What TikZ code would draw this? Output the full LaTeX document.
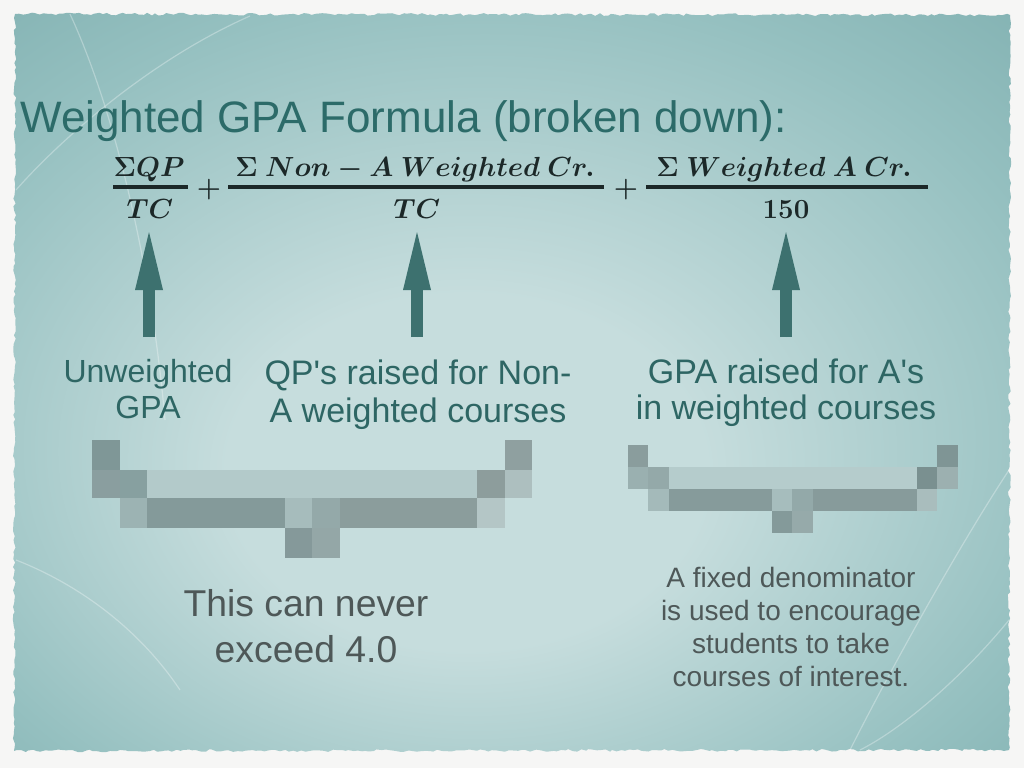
\documentclass[tikz,border=0pt]{standalone}
\usepackage[no-math]{fontspec}
\setmainfont{Liberation Sans}
\newfontfamily\aposfont{Liberation Sans}
\usetikzlibrary{arrows.meta,decorations.pathmorphing}
\definecolor{paper}{HTML}{F6F6F5}
\definecolor{cardedge}{HTML}{6A9FA0}
\definecolor{cardmid}{HTML}{95C0C0}
\definecolor{cardlight}{HTML}{C6DDDD}
\definecolor{titlecol}{HTML}{2C6B69}
\definecolor{labelcol}{HTML}{2E6664}
\definecolor{notecol}{HTML}{4E5858}
\definecolor{arrowcol}{HTML}{3D716F}
\definecolor{mathcol}{HTML}{1C2828}
\definecolor{blkc}{HTML}{888888}
\pgfdeclareradialshading{cardshade}{\pgfpoint{-3bp}{-8bp}}{%
  color(0bp)=(cardlight); color(12bp)=(cardlight); color(30bp)=(cardmid); color(50bp)=(cardedge)}
\tikzset{
  title/.style={text=titlecol, font=\fontsize{33}{40}\selectfont, inner sep=0pt, anchor=base west},
  frm/.style={text=mathcol, font=\fontsize{20}{24}\selectfont\boldmath, inner sep=0pt, anchor=base},
  fbar/.style={draw=mathcol, line width=2.4pt},
  label/.style={text=labelcol, align=center, inner sep=0pt, anchor=base},
  note/.style={text=notecol, align=center, inner sep=0pt, anchor=base},
  bigarrow/.style={draw=arrowcol, line width=9pt, -{Triangle[length=43.5pt,width=21pt,line width=0pt]}, fill=arrowcol},
  arcline/.style={draw=white, opacity=0.3, line width=0.9pt}
}
\newcommand{\blk}[5]{\definecolor{blkc}{HTML}{#5}\fill[blkc] (#1,#2) rectangle (#3,#4);}
\newcommand{\apos}{{\aposfont '}}
\begin{document}
\begin{tikzpicture}[x=0.75pt,y=-0.75pt]
\useasboundingbox (0,0) rectangle (1024,768);
\fill[paper] (0,0) rectangle (1024,768);
\pgfmathsetseed{7}
\shade[shading=cardshade, decorate, decoration={random steps, segment length=3pt, amplitude=1pt}]
  (15,14) -- (1010,15) -- (1009,750) -- (14,751) -- cycle;
% faint decorative arcs
\draw[arcline] (70,14) .. controls (110,100) and (150,250) .. (165,420);
\draw[arcline] (250,16) .. controls (150,60) and (60,140) .. (16,190);
\draw[arcline] (1009,470) .. controls (950,560) and (880,690) .. (850,750);
\draw[arcline] (1009,620) .. controls (960,680) and (900,730) .. (860,750);
\draw[arcline] (16,560) .. controls (80,585) and (140,630) .. (180,690);

% title
\node[title] (title) at (20,132) {Weighted GPA Formula (broken down):};

% formula
\node[frm] (n1) at (149,176) {$\Sigma QP$};
\node[frm] (d1) at (150,218) {$TC$};
\draw[fbar] (113,187) -- (188,187);
\node[frm, anchor=center] (p1) at (209,190) {$\mathbf{+}$};
\node[frm] (n2) at (415,176) {$\Sigma\ Non-A\ Weighted\ Cr.$};
\node[frm] (d2) at (417,218) {$TC$};
\draw[fbar] (228,187) -- (604,187);
\node[frm, anchor=center] (p2) at (626,190) {$\mathbf{+}$};
\node[frm] (n3) at (784,176) {$\Sigma\ Weighted\ A\ Cr.$};
\node[frm] (d3) at (786,218) {$150$};
\draw[fbar] (646,187) -- (928,187);

% labels (base anchor = baseline of last line)
\node[label, font=\fontsize{24}{26.5}\selectfont] (l1) at (148,418) {Unweighted\\GPA};
\node[label, font=\fontsize{25.5}{28}\selectfont] (l2) at (418,422) {QP\apos s raised for Non-\\A weighted courses};
\node[label, font=\fontsize{25.5}{26.5}\selectfont] (l3) at (786,419) {GPA raised for A\apos s\\in weighted courses};

% arrows
\coordinate (a1s) at (149,337); \coordinate (a1t) at (149,232);
\coordinate (a2s) at (417,337); \coordinate (a2t) at (417,232);
\coordinate (a3s) at (786,337); \coordinate (a3t) at (786,232);
\draw[bigarrow] (a1s) -- (a1t);
\draw[bigarrow] (a2s) -- (a2t);
\draw[bigarrow] (a3s) -- (a3t);

% pixelated brace (left)
\blk{92}{440}{120}{470}{7F9797}
\blk{505}{440}{532}{470}{8FA0A0}
\blk{92}{470}{120}{498}{8A9E9F}
\blk{120}{470}{147}{498}{87A0A0}
\blk{147}{470}{477}{498}{B3CACA}
\blk{477}{470}{505}{498}{8D9D9C}
\blk{505}{470}{532}{498}{ADBFBF}
\blk{120}{498}{147}{528}{9CB3B3}
\blk{147}{498}{285}{528}{849A9A}
\blk{285}{498}{312}{528}{A6BCBC}
\blk{312}{498}{340}{528}{94A9A9}
\blk{340}{498}{477}{528}{8B9D9C}
\blk{477}{498}{505}{528}{B4C6C6}
\blk{285}{528}{312}{558}{85999A}
\blk{312}{528}{340}{558}{94A7A7}
% pixelated brace (right)
\blk{628}{445}{648}{467}{8A9D9D}
\blk{937}{445}{958}{467}{7F9595}
\blk{628}{467}{648}{489}{9AB0B0}
\blk{648}{467}{669}{489}{94A9A9}
\blk{669}{467}{917}{489}{B5CCCC}
\blk{917}{467}{937}{489}{7A9090}
\blk{937}{467}{958}{489}{9CB0B0}
\blk{648}{489}{669}{511}{A4BABA}
\blk{669}{489}{772}{511}{869B9B}
\blk{772}{489}{792}{511}{A6BDBD}
\blk{792}{489}{813}{511}{93A9A9}
\blk{813}{489}{917}{511}{879B9B}
\blk{917}{489}{937}{511}{A9BDBD}
\blk{772}{511}{792}{533}{849A9A}
\blk{792}{511}{813}{533}{96AAAA}

% notes
\node[note, font=\fontsize{28}{34.5}\selectfont] (m1) at (306,662) {This can never\\exceed 4.0};
\node[note, font=\fontsize{21}{24.75}\selectfont] (m2) at (791,686) {A fixed denominator\\is used to encourage\\students to take\\courses of interest.};
\end{tikzpicture}
\end{document}
